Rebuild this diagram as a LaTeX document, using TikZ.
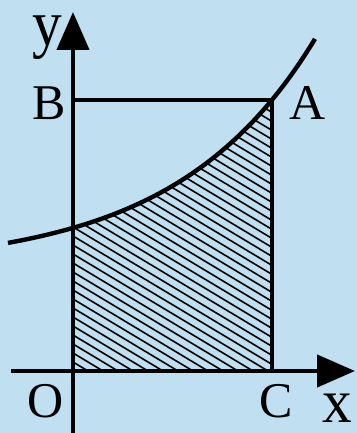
\documentclass[tikz,border=0pt]{standalone}
\usepackage{fontspec}
\setmainfont{Liberation Serif}
\usetikzlibrary{arrows.meta}
\definecolor{obg}{HTML}{C0DFF1}

\begin{document}
\begin{tikzpicture}[x=0.5pt,y=0.5pt,line width=2.2pt,
  axis/.style={-{Triangle[length=19pt,width=16pt]}},
  hatch/.style={line width=0.8pt},
  lab/.style={font=\fontsize{25}{25}\selectfont,inner sep=0pt},
  varlab/.style={font=\fontsize{27}{27}\selectfont,inner sep=0pt}]
  \fill[obg] (0,0) rectangle (357,433);
  \useasboundingbox (0,0) rectangle (357,433);
  \coordinate (O) at (73,62);
  \coordinate (A) at (272,333);
  \coordinate (B) at (73,333);
  \coordinate (C) at (272,62);
  \coordinate (xs) at (11,62);
  \coordinate (xe) at (355,62);
  \coordinate (ys) at (73,0);
  \coordinate (ye) at (73,421);
  \begin{scope}
    \clip (O) -- plot[domain=0:199,samples=40] ({73+\x},{165+40.1*exp(0.0072*\x)}) -- (C) -- cycle;
    \foreach \c in {62,71,...,458}
      \draw[hatch] (73,\c) -- (272,\c-119.4);
  \end{scope}
  \draw (B) -- (A) -- (C);
  \draw plot[domain=-65:242,samples=60] ({73+\x},{165+40.1*exp(0.0072*\x)});
  \draw[axis] (xs) -- (xe);
  \draw[axis] (ys) -- (ye);
  \node[varlab] (ylab) at (47,395) {\scalebox{1.1}[1.2]{y}};
  \node[varlab] (xlab) at (337,25) {\scalebox{1.1}[1.15]{x}};
  \node[lab] (Blab) at (49,329.5) {B};
  \node[lab] (Alab) at (307.5,329.5) {A};
  \node[lab] (Olab) at (46,32) {O};
  \node[lab] (Clab) at (276,31.5) {C};
\end{tikzpicture}
\end{document}
